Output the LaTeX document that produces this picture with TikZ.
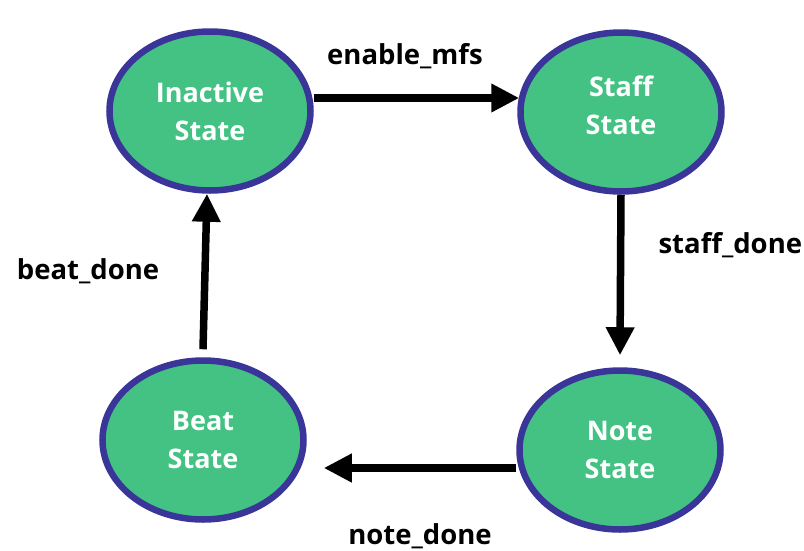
\documentclass[tikz,border=0pt]{standalone}
\usepackage{fontspec}
\setsansfont{Open Sans}
\usetikzlibrary{arrows.meta,shapes.geometric}
\definecolor{fsmgreen}{HTML}{44C283}
\definecolor{fsmrim}{HTML}{3A3598}
\tikzset{
  st/.style={ellipse, draw=fsmrim, line width=6.5pt, fill=fsmgreen, minimum width=201pt, minimum height=159pt,
    inner sep=0pt, align=center, text=white, font=\sffamily\bfseries\fontsize{27}{38}\selectfont},
  tr/.style={-{Triangle[length=28pt,width=27pt]}, line width=7.5pt},
  lbl/.style={font=\sffamily\bfseries\fontsize{27.5}{30}\selectfont},
}
\begin{document}
\begin{tikzpicture}[x=1pt,y=-1pt]
  \useasboundingbox (0,0) rectangle (804,550);
  % the four states
  \node[st] (inact) at (210,111) {Inactive\\State};
  \node[st] (staff) at (621,112) {Staff\\State\\[-24pt]};
  \node[st] (note) at (620,450) {Note\\State};
  \node[st] (beat) at (203,440) {Beat\\State};
  % transitions
  \draw[tr] ([yshift=13pt]inact.east) -- ([shift={(2pt,14pt)}]staff.west);
  \draw[tr] (staff.south) -- ([yshift=12pt]note.north);
  \draw[tr] ([yshift=-18pt]note.west) -- ([shift={(17pt,-28pt)}]beat.east);
  \draw[tr] ([yshift=8pt]beat.north) -- ([xshift=-3pt]inact.south);
  \node[lbl] (lenable) at (405,56) {enable\_mfs};
  \node[lbl, anchor=west] (lstaff) at (655,245) {staff\_done};
  \node[lbl] (lnote) at (420,536) {note\_done};
  \node[lbl] (lbeat) at (88,271) {beat\_done};
\end{tikzpicture}
\end{document}
